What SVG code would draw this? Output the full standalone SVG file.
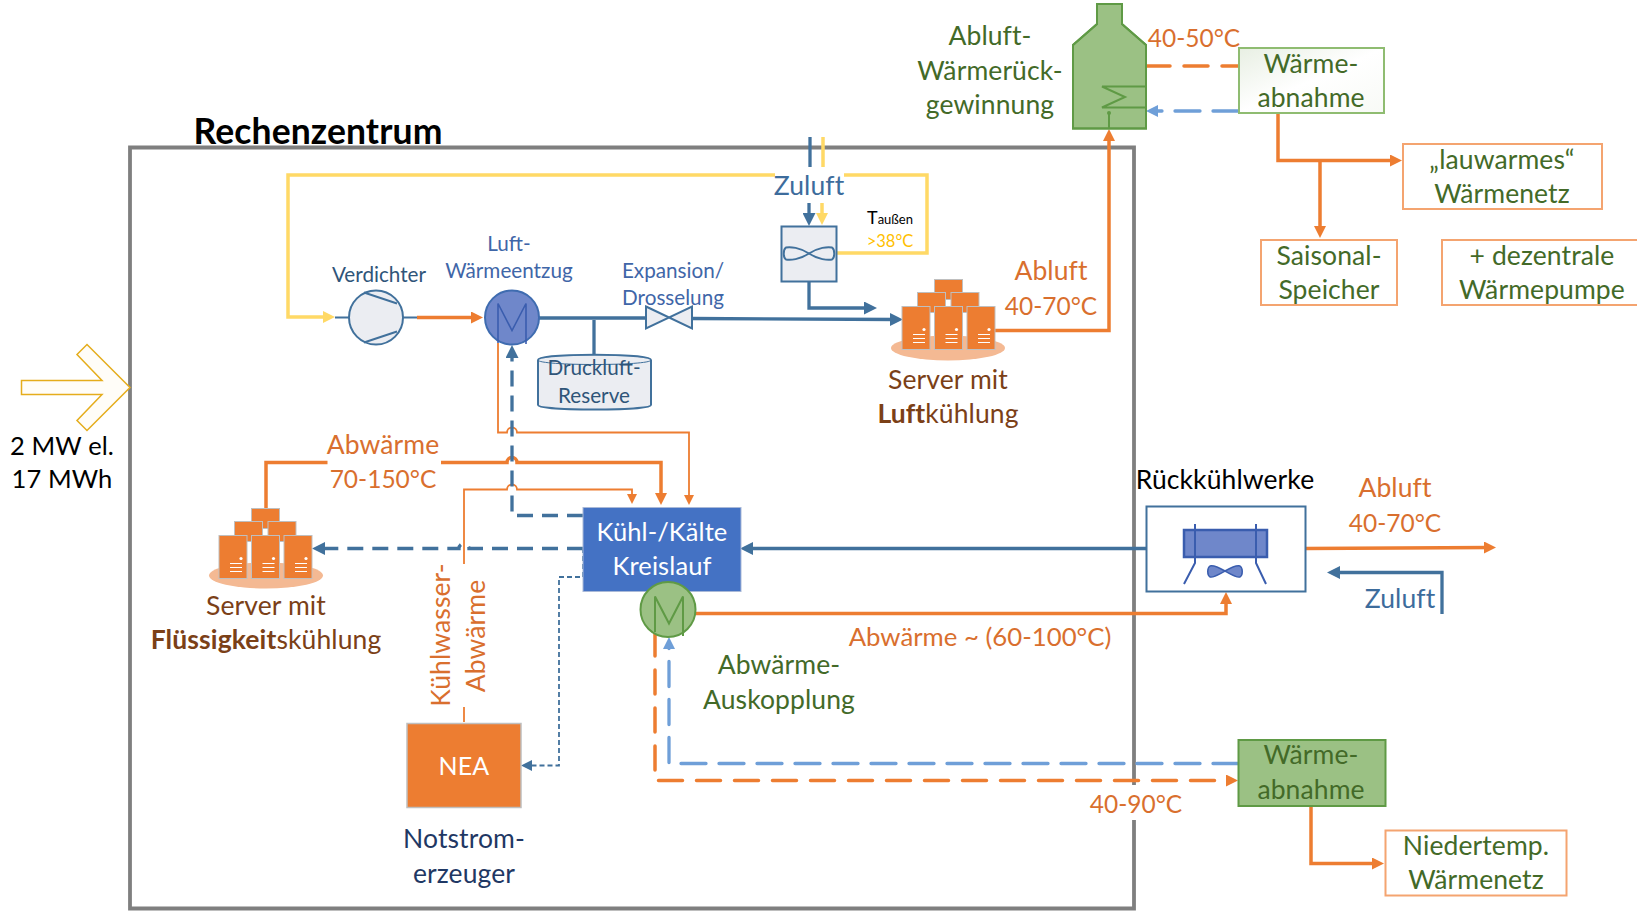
<svg xmlns="http://www.w3.org/2000/svg" width="1637" height="912" viewBox="0 0 1637 912">
<style>
text{font-family:Lato,"Liberation Sans",sans-serif;text-anchor:middle;font-size:26.500px;letter-spacing:.1px}
.or{fill:#d96f2e}.gr{fill:#436a28}.br{fill:#7b4017}.nv{fill:#1f3864}.bl{fill:#3d6c9c}.lb{fill:#3f66a8}.dk{fill:#2f5579}.wh{fill:#fff}.bk{fill:#000}
.sm{font-size:20.700px;letter-spacing:0}
.num{font-size:24.500px;letter-spacing:0}
.c-or{fill:none;stroke:#ed7d31;stroke-width:3.5}
.c-ort{fill:none;stroke:#ed7d31;stroke-width:1.8}
.c-bl{fill:none;stroke:#41719c;stroke-width:3.3}
.c-blt{fill:none;stroke:#41719c;stroke-width:1.8;stroke-dasharray:5 3}
.c-ye{fill:none;stroke:#ffd966;stroke-width:3.5}
.c-lb{fill:none;stroke:#6f9fd8;stroke-width:3.3;stroke-dasharray:25 13;stroke-linecap:round}
.dash-or{stroke-dasharray:24 14;stroke-linecap:round}
.dash-bl{stroke-dasharray:16 9}
.tower{fill:#ed7d31;stroke:#bfbfbf;stroke-width:1}
.tl{stroke:#fff;stroke-width:1.2}
.pale{fill:#f4b993}
.gbox{fill:#9bc184;stroke:#5f9a45;stroke-width:2}
.obox{fill:#fff;stroke:#f4a470;stroke-width:2}
.gline{fill:none;stroke:#5f9a45;stroke-width:2}
.ubox{fill:#ebedf2;stroke:#41719c;stroke-width:2}
.hx{fill:#6f87ca;stroke:#3f6cb0;stroke-width:2}
.mline{fill:none;stroke:#3a5dae;stroke-width:1.6}
</style>
<defs>
<linearGradient id="pg" x1="0" y1="0" x2="1" y2="1"><stop offset="0" stop-color="#e8efe3"/><stop offset="0.5" stop-color="#fff"/><stop offset="1" stop-color="#f8faf6"/></linearGradient>
<marker id="aO" markerUnits="userSpaceOnUse" markerWidth="12" markerHeight="12" refX="6" refY="6" orient="auto"><path d="M0,0L12,6L0,12z" fill="#ed7d31"/></marker>
<marker id="aOs" markerUnits="userSpaceOnUse" markerWidth="10" markerHeight="10" refX="5" refY="5" orient="auto"><path d="M0,0L10,5L0,10z" fill="#ed7d31"/></marker>
<marker id="aB" markerUnits="userSpaceOnUse" markerWidth="13" markerHeight="13" refX="6" refY="6.5" orient="auto"><path d="M0,0L13,6.5L0,13z" fill="#41719c"/></marker>
<marker id="aBs" markerUnits="userSpaceOnUse" markerWidth="11" markerHeight="11" refX="5" refY="5.5" orient="auto"><path d="M0,0L11,5.5L0,11z" fill="#41719c"/></marker>
<marker id="aY" markerUnits="userSpaceOnUse" markerWidth="12" markerHeight="12" refX="6" refY="6" orient="auto"><path d="M0,0L12,6L0,12z" fill="#ffd966"/></marker>
<marker id="aL" markerUnits="userSpaceOnUse" markerWidth="12" markerHeight="12" refX="6" refY="6" orient="auto"><path d="M0,0L12,6L0,12z" fill="#6f9fd8"/></marker>
<g id="tw"><rect class="tower" width="28" height="43"/><circle cx="22" cy="23" r="1.6" fill="#fff"/><path class="tl" d="M11,28H23M11,32H23M11,36H23"/></g>
<g id="rack"><rect class="tower" x="32.500" y="-27" width="28" height="20"/><rect class="tower" x="15.500" y="-14" width="28" height="20"/><rect class="tower" x="49" y="-14" width="28" height="20"/><use href="#tw"/><use href="#tw" x="32.500"/><use href="#tw" x="65"/></g>
</defs>
<rect width="1637" height="912" fill="#fff"/>

<g id="rechenzentrum-frame">
<path d="M1134,785V147.500H130V908.500H1134V820" fill="none" stroke="#7f7f7f" stroke-width="3.800"/>
<text class="bk" x="318" y="144" font-weight="700" style="font-size:35.500px">Rechenzentrum</text>
</g>

<g id="connectors">
<path class="c-ye" d="M775,175H288V317H329" marker-end="url(#aY)"/>
<path class="c-ye" d="M844,175H927V253H837"/>
<path class="c-ye" d="M823,137V167"/>
<path class="c-ye" d="M822,203V219" marker-end="url(#aY)"/>
<path class="c-bl" d="M810,137V167"/>
<path class="c-bl" d="M809,203V219" marker-end="url(#aB)"/>
<path class="c-bl" d="M809,281V308H870" marker-end="url(#aB)"/>
<path class="c-bl" d="M539,318H646M692,318.500L896,319.500" marker-end="url(#aB)"/>
<path class="c-bl" d="M594,320V355"/>
<path d="M335,317.500H349M403,317.500H417" fill="none" stroke="#41719c" stroke-width="2"/>
<path class="c-or" d="M417,317.500H477" marker-end="url(#aO)"/>
<path class="c-or" d="M994,330.500H1109V135" marker-end="url(#aO)"/>
<path class="c-or" d="M266,508V462.500H327.500M441,462.500H507A5,5 0 0 1 517,462.500H661V499" marker-end="url(#aO)"/>
<path class="c-ort" d="M498,343V432.500H507A5,5 0 0 1 517,432.500H689V500" marker-end="url(#aOs)"/>
<path class="c-ort" d="M464,564V489.500H507A5,5 0 0 1 517,489.500H632V499" marker-end="url(#aOs)"/>
<path class="c-ort" d="M464,707V722"/>
<path class="c-bl dash-bl" d="M583,515.500H512V352" marker-end="url(#aB)"/>
<path class="c-bl dash-bl" d="M583,548.500H469A5,5 0 0 0 459,548.500H319" marker-end="url(#aB)"/>
<path class="c-blt" d="M583,548V577H559V765.500H527" marker-end="url(#aBs)"/>
<path class="c-bl" d="M1146,548.500H747" marker-end="url(#aB)"/>
<path class="c-or" d="M1305,548.500L1490,547.500" marker-end="url(#aO)"/>
<path class="c-bl" d="M1442,614V572.500H1334" marker-end="url(#aB)"/>
<path class="c-or" d="M696,613.500H1226V598" marker-end="url(#aO)"/>
<path class="c-or dash-or" d="M655,632V780.500H1232" marker-end="url(#aO)"/>
<path class="c-lb" d="M1238,763.500H669V643" marker-end="url(#aL)"/>
<path class="c-or dash-or" d="M1146,66H1238"/>
<path class="c-lb" d="M1238,111H1152" marker-end="url(#aL)"/>
<path class="c-or" d="M1278,113V160.500H1396" marker-end="url(#aO)"/>
<path class="c-or" d="M1320,160V232" marker-end="url(#aO)"/>
<path class="c-or" d="M1311,805V863.500H1378" marker-end="url(#aO)"/>
</g>

<g id="einspeisung">
<path d="M21.500,380.500H102L77,354.500L87,344.500L130,387.500L87,430.500L77,420.500L102,394.500H21.500Z" fill="#fffdf8" stroke="#e5ad1c" stroke-width="1.500"/>
<text class="bk" x="62" y="454.500" style="font-size:25.500px">2 MW el.</text>
<text class="bk" x="62" y="487.500" style="font-size:25.500px">17 MWh</text>
</g>

<g id="verdichter">
<circle cx="376" cy="317.500" r="27" class="ubox"/>
<path d="M364,292.500L397,303.500M364,342.500L397,331.500" fill="none" stroke="#41719c" stroke-width="2"/>
<text class="dk sm" x="379" y="282">Verdichter</text>
</g>

<g id="luft-waermeentzug">
<circle cx="512" cy="317.500" r="27" class="hx"/>
<path class="mline" d="M498,343V303.500L512,330.500L526,303.500V344"/>
<text class="lb sm" x="509" y="250.500">Luft-</text>
<text class="lb sm" x="509" y="277.500">Wärmeentzug</text>
</g>

<g id="expansion">
<path d="M646,306.500L692,328.500V306.500L646,328.500Z" class="ubox"/>
<text class="lb sm" x="673" y="277.500">Expansion/</text>
<text class="lb sm" x="673" y="304.500">Drosselung</text>
</g>

<g id="druckluft-reserve">
<path class="ubox" d="M538,360C538,353 651,353 651,360V405C651,411 538,411 538,405Z"/>
<path d="M538,360C538,366 651,366 651,360" fill="none" stroke="#41719c" stroke-width="1"/>
<text class="dk sm" x="594" y="375">Druckluft-</text>
<text class="dk sm" x="594" y="403">Reserve</text>
</g>

<g id="zuluft-luefter">
<rect class="ubox" x="781.500" y="226.500" width="55" height="55"/>
<path d="M809,253.500C800,247.500 790,246.500 786,247.500C783,249.500 783,257.500 786,259.500C790,260.500 800,259.500 809,253.500C818,247.500 828,246.500 832,247.500C835,249.500 835,257.500 832,259.500C828,260.500 818,259.500 809,253.500Z" fill="none" stroke="#41719c" stroke-width="2"/>
<text class="bl" x="809" y="194.500">Zuluft</text>
<text class="bk" x="890" y="223.500" style="font-size:18px;letter-spacing:0">T<tspan style="font-size:13px">außen</tspan></text>
<text x="890" y="246.500" fill="#ffc000" style="font-size:16.500px;letter-spacing:0">&gt;38°C</text>
</g>

<g id="server-luft">
<ellipse class="pale" cx="948" cy="348" rx="57" ry="12.500"/>
<use href="#rack" x="902" y="306.500"/>
<text class="br" x="948" y="388.500">Server mit</text>
<text class="br" x="948" y="423"><tspan font-weight="700">Luft</tspan>kühlung</text>
<text class="or" x="1051" y="279.500">Abluft</text>
<text class="or num" x="1051" y="314.500">40-70°C</text>
</g>

<g id="abluft-waermerueckgewinnung">
<path class="gbox" d="M1097,4V24L1073,45V128.500H1146V45L1122,24V4Z" stroke="none"/>
<path class="gline" d="M1097,4V24L1073,45V128.500H1146V45L1122,24V4"/>
<path class="gline" d="M1146,86.500H1102L1125,97L1102,107.500H1146"/>
<path class="gline" d="M1109,113V128"/><circle cx="1109" cy="113" r="2" fill="#5f9a45"/>
<text class="gr" x="990" y="44.500">Abluft-</text>
<text class="gr" x="990" y="79.500">Wärmerück-</text>
<text class="gr" x="990" y="113.500">gewinnung</text>
<text class="or num" x="1194" y="47">40-50°C</text>
</g>

<g id="waermeabnahme-oben">
<rect x="1239" y="48" width="145" height="65" fill="url(#pg)" stroke="#8fbc71" stroke-width="2"/>
<text class="gr" x="1311" y="72.500">Wärme-</text>
<text class="gr" x="1311" y="106.500">abnahme</text>
</g>

<g id="lauwarmes-waermenetz">
<rect class="obox" x="1403" y="144" width="199" height="65"/>
<text class="gr" x="1502" y="168.500">„lauwarmes“</text>
<text class="gr" x="1502" y="202.500">Wärmenetz</text>
</g>

<g id="saisonal-speicher">
<rect class="obox" x="1261" y="240" width="136" height="65"/>
<text class="gr" x="1329" y="264.500">Saisonal-</text>
<text class="gr" x="1329" y="298.500">Speicher</text>
</g>

<g id="dezentrale-waermepumpe">
<rect class="obox" x="1442" y="240" width="200" height="65"/>
<text class="gr" x="1542" y="264.500">+ dezentrale</text>
<text class="gr" x="1542" y="298.500">Wärmepumpe</text>
</g>

<g id="server-fluessig">
<ellipse class="pale" cx="266" cy="575.500" rx="57" ry="13"/>
<use href="#rack" x="219" y="535.500"/>
<text class="br" x="266" y="614.500">Server mit</text>
<text class="br" x="266" y="649">
<tspan font-weight="700">Flüssigkeit</tspan>skühlung</text>
<text class="or" x="383" y="453.500">Abwärme</text>
<text class="or num" x="383" y="488">70-150°C</text>
</g>

<g id="kreislauf">
<rect x="583" y="507.500" width="158" height="84" fill="#4472c4" stroke="#a9b9d8" stroke-width="1"/>
<text class="wh" x="662" y="540.500" style="font-size:25.500px">Kühl-/Kälte</text>
<text class="wh" x="662" y="575" style="font-size:25.500px">Kreislauf</text>
</g>

<g id="abwaerme-auskopplung">
<circle cx="668" cy="609.500" r="27.500" class="gbox"/>
<path class="gline" d="M655,632V596.500L669,623.500L683,596.500V636"/>
<text class="gr" x="779" y="673.500">Abwärme-</text>
<text class="gr" x="779" y="708.500">Auskopplung</text>
<text class="or" x="980" y="645.500" style="font-size:25.750px;letter-spacing:0">Abwärme ~ (60-100°C)</text>
</g>

<g id="nea">
<rect x="407" y="723.500" width="114" height="84" fill="#ed7d31" stroke="#bfbfbf" stroke-width="1.500"/>
<text class="wh" x="464" y="774.500" style="font-size:25px">NEA</text>
<text class="or" transform="translate(450,635) rotate(-90)">Kühlwasser-</text>
<text class="or" transform="translate(485,636) rotate(-90)">Abwärme</text>
<text class="nv" x="464" y="848">Notstrom-</text>
<text class="nv" x="464" y="882.500">erzeuger</text>
</g>

<g id="rueckkuehlwerke">
<rect x="1146.500" y="506.500" width="159" height="85" fill="#fff" stroke="#41719c" stroke-width="2"/>
<rect x="1184" y="530" width="83" height="27" fill="#6f87ca" stroke="#3a5dae" stroke-width="2.500"/>
<path d="M1195,524V563L1184,584M1256,524V563L1266,584" fill="none" stroke="#3a5dae" stroke-width="2"/>
<path d="M1225,571C1218,567 1213,565 1210,566C1207,568 1207,575 1210,577C1213,578 1218,575 1225,571C1232,567 1237,565 1240,566C1243,568 1243,575 1240,577C1237,578 1232,575 1225,571Z" fill="#6f87ca" stroke="#3a5dae" stroke-width="1.500"/>
<text class="bk" x="1225" y="488.500">Rückkühlwerke</text>
<text class="or" x="1395" y="496.500">Abluft</text>
<text class="or num" x="1395" y="532">40-70°C</text>
<text class="bl" x="1400" y="607.500">Zuluft</text>
</g>

<g id="waermeabnahme-unten">
<rect class="gbox" x="1238.500" y="740" width="147" height="66"/>
<text class="gr" x="1311" y="764">Wärme-</text>
<text class="gr" x="1311" y="799">abnahme</text>
<text class="or num" x="1136" y="812.500">40-90°C</text>
</g>

<g id="niedertemp-waermenetz">
<rect class="obox" x="1385.500" y="830.500" width="181" height="65"/>
<text class="gr" x="1476" y="855">Niedertemp.</text>
<text class="gr" x="1476" y="889">Wärmenetz</text>
</g>
</svg>
